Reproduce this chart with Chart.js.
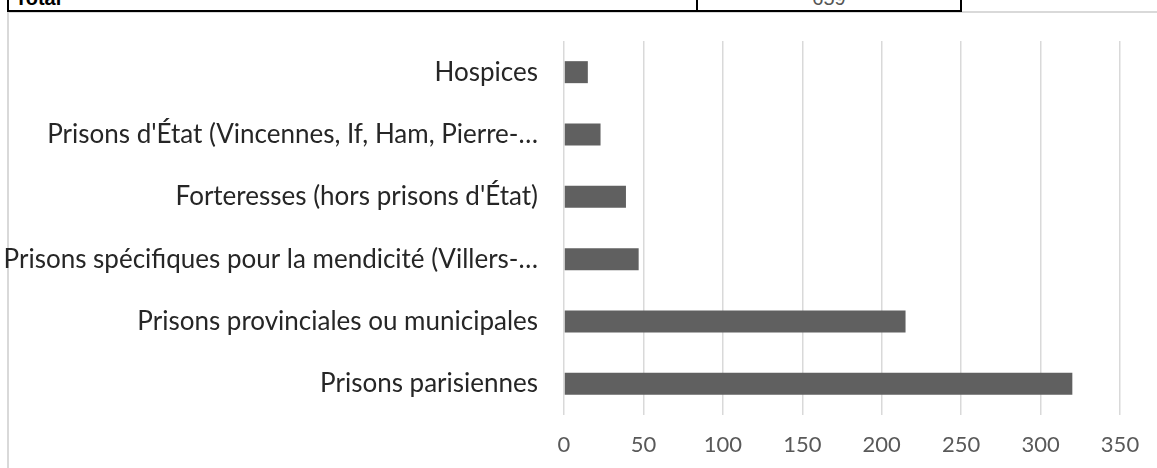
<!DOCTYPE html>
<html>
<head>
<meta charset="utf-8">
<script src="https://cdn.jsdelivr.net/npm/chart.js@4/dist/chart.umd.min.js"></script>
<style>
  html, body { margin: 0; padding: 0; background: #fff; overflow: hidden; }
  #wrap { position: relative; width: 1157px; height: 468px; }
  #tbl { position: absolute; left: 7px; top: -16px; border-collapse: collapse; font-family: "Liberation Sans", Arial, sans-serif; font-size: 20px; }
  #tbl td { border: 2px solid #000; height: 24px; padding: 0 6px; }
  #frame { position: absolute; left: 7px; top: 11px; width: 1200px; height: 500px; border: 2px solid #d9d9d9; box-sizing: border-box; }
  canvas { position: absolute; left: 0; top: 0; }
</style>
</head>
<body>
<div id="wrap">
  <div id="frame"></div>
  <table id="tbl">
    <tr><td style="width:675px;font-weight:bold">Total</td><td style="width:250px;text-align:center;color:#555">659</td></tr>
  </table>
  <canvas id="chart" width="1157" height="468"></canvas>
</div>
<script>
// categories, top to bottom as in the picture
const categories = [
  'Hospices',
  "Prisons d'État (Vincennes, If, Ham, Pierre-…",
  "Forteresses (hors prisons d'État)",
  'Prisons spécifiques pour la mendicité (Villers-…',
  'Prisons provinciales ou municipales',
  'Prisons parisiennes'
];
const counts = [15, 23, 39, 47, 215, 320];
const xTicks = [0, 50, 100, 150, 200, 250, 300, 350];

const fam = 'Lato, "Open Sans", sans-serif';

const ctx = document.getElementById('chart').getContext('2d');
new Chart(ctx, {
  type: 'bar',
  data: {
    labels: categories,
    datasets: [{
      data: counts,
      backgroundColor: '#606060',
      borderWidth: 0,
      barPercentage: 0.353,
      categoryPercentage: 1
    }]
  },
  options: {
    indexAxis: 'y',
    responsive: false,
    animation: false,
    layout: { padding: { top: 41, right: 37, left: 0, bottom: 0 } },
    plugins: { legend: { display: false }, tooltip: { enabled: false } },
    scales: {
      x: {
        min: 0,
        max: 350,
        afterBuildTicks: s => { s.ticks = xTicks.map(v => ({ value: v })); },
        afterFit: s => { s.height = 53; },
        grid: { color: '#d9d9d9', lineWidth: 1.5, drawTicks: false },
        border: { display: false },
        ticks: { color: '#595959', font: { family: fam, size: 22 }, padding: 17 }
      },
      y: {
        afterFit: s => { s.width = 564; },
        grid: { display: false },
        border: { display: false },
        ticks: { color: '#262626', font: { family: fam, size: 26 }, padding: 18, autoSkip: false }
      }
    }
  }
});
</script>
</body>
</html>
